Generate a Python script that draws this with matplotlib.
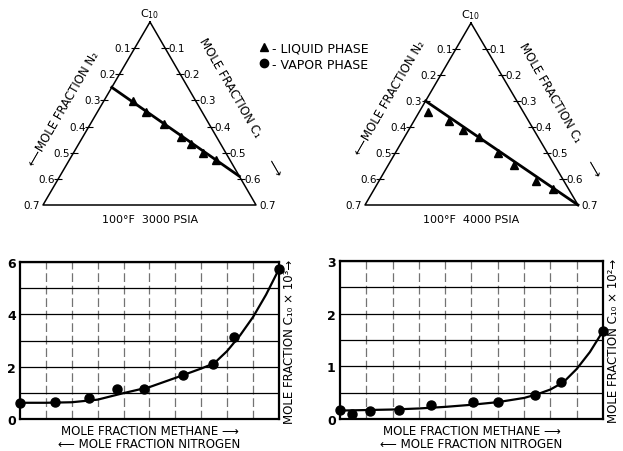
import numpy as np
import matplotlib.pyplot as plt
from matplotlib.transforms import Affine2D
from matplotlib.lines import Line2D

# ternary diagrams: liquid phase N2 / C1 mole fractions (C10 = balance)
liq3000_n2 = [0.208, 0.185, 0.150, 0.117, 0.099, 0.077, 0.047]
liq3000_c1 = [0.096, 0.158, 0.242, 0.321, 0.369, 0.425, 0.481]
tie3000_n2 = [0.25, 0.0]
tie3000_c1 = [0.0, 0.59]

liq4000_n2 = [0.313, 0.261, 0.232, 0.193, 0.161, 0.132, 0.091, 0.050]
liq4000_c1 = [0.030, 0.116, 0.179, 0.245, 0.339, 0.414, 0.517, 0.588]
tie4000_n2 = [0.30, 0.0]
tie4000_c1 = [0.0, 0.70]

tern_ticks = [0.1, 0.2, 0.3, 0.4, 0.5, 0.6, 0.7]

# vapor phase C10 content vs methane/nitrogen ratio
vap3000_x = [0, 1.35, 2.68, 3.73, 4.79, 6.31, 7.46, 8.27, 10]
vap3000_y = [0.62, 0.66, 0.79, 1.15, 1.15, 1.68, 2.10, 3.12, 5.73]
fit3000_x = [0, 1, 2, 3, 4, 5, 6, 7, 7.5, 8, 8.5, 9, 9.5, 10]
fit3000_y = [0.62, 0.62, 0.64, 0.74, 0.99, 1.22, 1.57, 1.93, 2.13, 2.6, 3.2, 3.9, 4.75, 5.73]

vap4000_x = [0, 0.44, 1.16, 2.25, 3.45, 5.05, 6.02, 7.42, 8.42, 10]
vap4000_y = [0.18, 0.09, 0.16, 0.18, 0.27, 0.32, 0.33, 0.46, 0.70, 1.67]
fit4000_x = [0, 1, 2, 3, 4, 5, 6, 7, 7.5, 8, 8.5, 9, 9.5, 10]
fit4000_y = [0.16, 0.17, 0.18, 0.20, 0.23, 0.27, 0.32, 0.40, 0.47, 0.56, 0.70, 0.95, 1.27, 1.67]

plt.rcParams['font.family'] = 'DejaVu Sans'
plt.rcParams['font.size'] = 8


def tern_transform(ax, apex, left, right, full=0.7):
    m = np.array([[(left[0] - apex[0]) / full, (right[0] - apex[0]) / full, apex[0]],
                  [(left[1] - apex[1]) / full, (right[1] - apex[1]) / full, apex[1]],
                  [0, 0, 1]])
    return Affine2D(m) + ax.transData


def draw_ternary(ax, apex, left, right, liq_n2, liq_c1, tie_n2, tie_c1, title, lab_n2, lab_c1, arrow):
    t = tern_transform(ax, apex, left, right)
    ax.plot([0, 0.7, 0, 0], [0, 0, 0.7, 0], transform=t, color='k', lw=1.1)
    zeros = np.zeros(len(tern_ticks) - 1)
    ax.plot(tern_ticks[:-1], zeros, transform=t, marker='_', ms=6, ls='none', color='k', mew=0.8)
    ax.plot(zeros, tern_ticks[:-1], transform=t, marker='_', ms=6, ls='none', color='k', mew=0.8)
    for v in tern_ticks:
        ax.annotate('%.1f' % v, (v, 0), xycoords=t, xytext=(-2.5, 0), textcoords='offset points',
                    ha='right', va='center', fontsize=7.5)
        ax.annotate('%.1f' % v, (0, v), xycoords=t, xytext=(2.5, 0), textcoords='offset points',
                    ha='left', va='center', fontsize=7.5)
    ax.plot(tie_n2, tie_c1, transform=t, color='k', lw=2)
    ax.plot(liq_n2, liq_c1, transform=t, marker='^', ms=5.5, ls='none', color='k')
    ax.text(apex[0], apex[1] - 9, 'C$_{10}$', ha='center', va='center', fontsize=8)
    ax.text(apex[0], left[1] + 14, title, ha='center', va='center', fontsize=8)
    ax.text(lab_n2[0], lab_n2[1], '\u27f5MOLE FRACTION N\u2082', rotation=60,
            ha='center', va='center', fontsize=8.5, rotation_mode='anchor')
    ax.text(lab_c1[0], lab_c1[1], 'MOLE FRACTION C\u2081', rotation=-60,
            ha='center', va='center', fontsize=8.5, rotation_mode='anchor')
    ax.text(arrow[0], arrow[1], '\u27f6', rotation=-60, ha='center', va='center',
            fontsize=9, rotation_mode='anchor')


def draw_vapor(ax, vx, vy, fx, fy, ymax, ystep, sup):
    ax.plot(fx, fy, color='k', lw=1.6, clip_on=False)
    ax.plot(vx, vy, marker='o', ms=6.5, ls='none', color='k', clip_on=False, zorder=5)
    ax.set_xlim(0, 10)
    ax.set_ylim(0, ymax)
    ax.set_xticks(np.arange(1, 10))
    ax.set_xticklabels([])
    yt = np.arange(0, ymax + ystep / 2, ystep)
    ax.set_yticks(yt)
    ax.set_yticklabels(['%g' % v if i % 2 == 0 else '' for i, v in enumerate(yt)],
                       fontsize=9, fontweight='bold')
    ax.tick_params(length=0, pad=3)
    ax.grid(axis='y', color='k', lw=0.9)
    ax.grid(axis='x', color='0.45', lw=0.9, ls=(0, (7, 3)))
    for s in ax.spines.values():
        s.set_linewidth(1.6)
    ax.yaxis.set_label_position('right')
    ax.set_ylabel('MOLE FRACTION C\u2081\u2080 \u00d7 10' + sup + '\u2192', fontsize=8.5,
                  rotation=90, labelpad=3)
    ax.set_xlabel('MOLE FRACTION METHANE \u27f6\n\u27f5 MOLE FRACTION NITROGEN',
                  fontsize=8.5, labelpad=0.5, linespacing=1.0)


fig = plt.figure(figsize=(6.23, 4.52), dpi=100)
top = fig.add_axes([0, 0, 1, 1])
top.set_xlim(0, 623)
top.set_ylim(452, 0)
top.axis('off')

draw_ternary(top, (150, 23), (43, 206), (256, 206), liq3000_n2, liq3000_c1,
             tie3000_n2, tie3000_c1, '100\u00b0F  3000 PSIA', (63, 109), (230, 88), (273, 168))
draw_ternary(top, (471, 24), (365, 206), (578, 206), liq4000_n2, liq4000_c1,
             tie4000_n2, tie4000_c1, '100\u00b0F  4000 PSIA', (389, 98), (550, 93), (592, 169))

handles = [Line2D([], [], marker='^', ls='none', color='k', ms=5.5, label='- LIQUID PHASE'),
           Line2D([], [], marker='o', ls='none', color='k', ms=6, label='- VAPOR PHASE')]
fig.legend(handles=handles, loc='upper left', bbox_to_anchor=(0.41, 0.918), frameon=False,
           handlelength=0.6, handletextpad=0.3, labelspacing=0.3, fontsize=9, borderaxespad=0)

ax1 = fig.add_axes([0.0321, 0.0708, 0.4157, 0.3473])
draw_vapor(ax1, vap3000_x, vap3000_y, fit3000_x, fit3000_y, 6, 1, '\u00b3')
ax2 = fig.add_axes([0.5457, 0.0708, 0.4222, 0.3496])
draw_vapor(ax2, vap4000_x, vap4000_y, fit4000_x, fit4000_y, 3, 0.5, '\u00b2')

fig.savefig('out.png', dpi=100)
